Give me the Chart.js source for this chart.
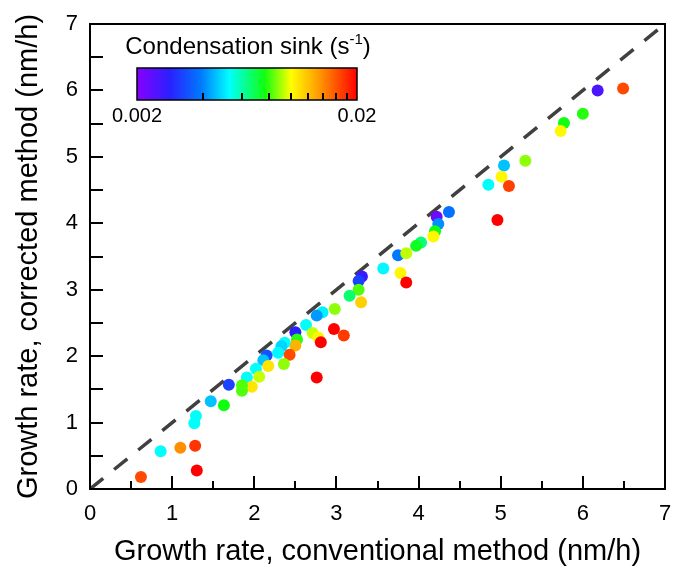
<!doctype html>
<html lang="en">
<head>
<meta charset="utf-8">
<title>Growth rate: corrected vs conventional</title>
<script src="https://cdn.jsdelivr.net/npm/chart.js@4.4.1/dist/chart.umd.min.js"></script>
<style>
  html,body{margin:0;padding:0;background:#fff}
  .wrap{position:relative;width:674px;height:570px}
</style>
</head>
<body>
<div class="wrap"><canvas id="chart" width="674" height="570"></canvas></div>
<script>
// growth rates (nm/h)
const conventional = [6.18,6.49,6.00,5.77,5.73,5.30,5.04,5.01,4.85,5.10,4.96,4.37,4.22,4.24,4.20,4.18,4.03,3.97,3.75,3.85,
  3.57,3.78,3.85,3.31,3.27,3.27,3.16,3.30,2.98,2.97,3.09,2.83,2.76,2.63,2.50,2.52,2.71,2.78,2.81,2.76,
  2.50,2.37,2.33,2.29,2.43,2.36,2.15,2.11,2.17,2.02,2.06,1.91,1.97,1.85,1.85,1.69,1.47,1.63,1.29,1.27,
  0.86,1.10,1.28,1.30,0.62];
const corrected = [6.00,6.03,5.65,5.51,5.39,4.94,4.87,4.70,4.58,4.56,4.05,4.17,4.10,3.99,3.88,3.80,3.71,3.66,3.52,3.55,
  3.32,3.25,3.11,3.20,3.13,3.00,2.91,2.81,2.71,2.41,2.31,2.66,2.61,2.47,2.36,2.25,2.35,2.28,2.21,1.68,
  2.16,2.20,2.15,2.05,2.02,1.88,2.01,1.94,1.85,1.81,1.69,1.68,1.54,1.56,1.48,1.57,1.32,1.26,1.10,0.99,
  0.57,0.62,0.65,0.28,0.18];
// condensation sink (s^-1)
const sink = [0.0025,0.0165,0.0078,0.0076,0.0102,0.0088,0.0046,0.0102,0.0053,0.0170,0.0200,0.0038,0.0022,0.0041,0.0076,0.0102,0.0065,0.0074,0.0039,0.0093,
  0.0052,0.0103,0.0200,0.0027,0.0032,0.0082,0.0066,0.0115,0.0088,0.0200,0.0172,0.0051,0.0042,0.0053,0.0028,0.0078,0.0094,0.0103,0.0200,0.0200,
  0.0125,0.0053,0.0048,0.0052,0.0165,0.0088,0.0034,0.0046,0.0108,0.0053,0.0094,0.0053,0.0108,0.0082,0.0082,0.0032,0.0046,0.0076,0.0053,0.0053,
  0.0053,0.0138,0.0175,0.0200,0.0165];

const axisMin = 0, axisMax = 7;
const refLine = [0, 7];
const sinkRange = [0.002, 0.02];
const sinkTicks = [0.004,0.006,0.008,0.010,0.012,0.014,0.016,0.018];
const sinkLabels = ['0.002', '0.02'];

// purple -> blue -> cyan -> green -> yellow -> red
const cmapStops = [[0,'#8800ff'],[0.15,'#2a20ff'],[0.29,'#0078ff'],[0.42,'#00ffff'],[0.58,'#10ff10'],[0.70,'#ffff00'],[0.82,'#ffa000'],[1,'#ff0000']];

function hex2rgb(h){ return [1,3,5].map(i=>parseInt(h.slice(i,i+2),16)); }
function sinkT(v){ return Math.log10(v/sinkRange[0]) / Math.log10(sinkRange[1]/sinkRange[0]); }
function cmap(t){
  t = Math.max(0, Math.min(1, t));
  for (let i=1;i<cmapStops.length;i++){
    const [t1,c1] = cmapStops[i];
    if (t <= t1){
      const [t0,c0] = cmapStops[i-1];
      const f = (t-t0)/(t1-t0), a = hex2rgb(c0), b = hex2rgb(c1);
      return 'rgb('+a.map((v,k)=>Math.round(v+(b[k]-v)*f)).join(',')+')';
    }
  }
  return cmapStops.at(-1)[1];
}

const FONT = 'Arial, "Liberation Sans", sans-serif';

// inward ticks, full frame and the colour bar
const framePlugin = {
  id: 'frame',
  afterDraw(chart){
    const {ctx, chartArea:a, scales:{x, y}} = chart;
    ctx.save();
    ctx.strokeStyle = '#000';
    ctx.lineWidth = 2;
    ctx.beginPath();
    for (let v = axisMin; v <= axisMax; v += 0.5){
      const px = Math.round(x.getPixelForValue(v));
      const len = Number.isInteger(v) ? 13 : 8;
      ctx.moveTo(px, a.bottom); ctx.lineTo(px, a.bottom - len);
      const py = Math.round(y.getPixelForValue(v));
      ctx.moveTo(a.left, py); ctx.lineTo(a.left + 13, py);
    }
    ctx.stroke();
    ctx.strokeRect(a.left, a.top, a.right - a.left, a.bottom - a.top);

    // colour bar
    const bx = 137, by = 68, bw = 220, bh = 32;
    const g = ctx.createLinearGradient(bx, 0, bx + bw, 0);
    cmapStops.forEach(([t,c]) => g.addColorStop(t, c));
    ctx.fillStyle = g;
    ctx.fillRect(bx, by, bw, bh);
    ctx.lineWidth = 1.5;
    ctx.strokeRect(bx, by, bw, bh);
    ctx.lineWidth = 2;
    ctx.beginPath();
    sinkTicks.forEach(v => {
      const px = Math.round(bx + sinkT(v) * bw);
      ctx.moveTo(px, by + bh); ctx.lineTo(px, by + bh - 7);
    });
    ctx.stroke();

    ctx.fillStyle = '#000';
    ctx.textBaseline = 'alphabetic';
    ctx.textAlign = 'center';
    ctx.font = '20px ' + FONT;
    ctx.fillText(sinkLabels[0], bx, 122);
    ctx.fillText(sinkLabels[1], bx + bw, 122);

    const main = 'Condensation sink (s', sup = '-1', end = ')';
    ctx.font = '24px ' + FONT;
    const w1 = ctx.measureText(main).width, w3 = ctx.measureText(end).width;
    ctx.font = '15px ' + FONT;
    const w2 = ctx.measureText(sup).width;
    let sx = 248 - (w1 + w2 + w3) / 2;
    ctx.textAlign = 'left';
    ctx.font = '24px ' + FONT;
    ctx.fillText(main, sx, 54);
    ctx.font = '15px ' + FONT;
    ctx.fillText(sup, sx + w1, 44);
    ctx.font = '24px ' + FONT;
    ctx.fillText(end, sx + w1 + w2, 54);
    ctx.restore();
  }
};

const points = conventional.map((v,i) => ({x: v, y: corrected[i]}));

new Chart(document.getElementById('chart').getContext('2d'), {
  type: 'scatter',
  data: {
    datasets: [
      {
        type: 'line',
        data: refLine.map(v => ({x: v, y: v})),
        borderColor: '#404040',
        borderWidth: 3.5,
        borderDash: [17, 14],
        pointRadius: 0,
        order: 2
      },
      {
        data: points,
        pointRadius: 6,
        pointBorderWidth: 0,
        pointBackgroundColor: sink.map(s => cmap(sinkT(s))),
        order: 1
      }
    ]
  },
  options: {
    responsive: false,
    animation: false,
    devicePixelRatio: 1,
    layout: { padding: { top: 24, right: 9, left: 0, bottom: 0 } },
    plugins: { legend: { display: false }, tooltip: { enabled: false } },
    scales: {
      x: {
        type: 'linear', min: axisMin, max: axisMax,
        grid: { display: false, drawTicks: false },
        border: { display: false },
        ticks: { stepSize: 1, color: '#000', padding: 12, font: { family: FONT, size: 22 } },
        title: { display: true, text: 'Growth rate, conventional method (nm/h)', color: '#000',
                 font: { family: FONT, size: 29 }, padding: { bottom: 1 } },
        afterFit: s => { s.height = 81; s.paddingLeft = 0; s.paddingRight = 0; }
      },
      y: {
        type: 'linear', min: axisMin, max: axisMax,
        grid: { display: false, drawTicks: false },
        border: { display: false },
        ticks: { stepSize: 1, color: '#000', padding: 12, font: { family: FONT, size: 22 } },
        title: { display: true, text: 'Growth rate, corrected method (nm/h)', color: '#000',
                 font: { family: FONT, size: 29 }, padding: { top: 12 } },
        afterFit: s => { s.width = 90; s.paddingTop = 0; s.paddingBottom = 0; }
      }
    }
  },
  plugins: [framePlugin]
});
</script>
</body>
</html>
